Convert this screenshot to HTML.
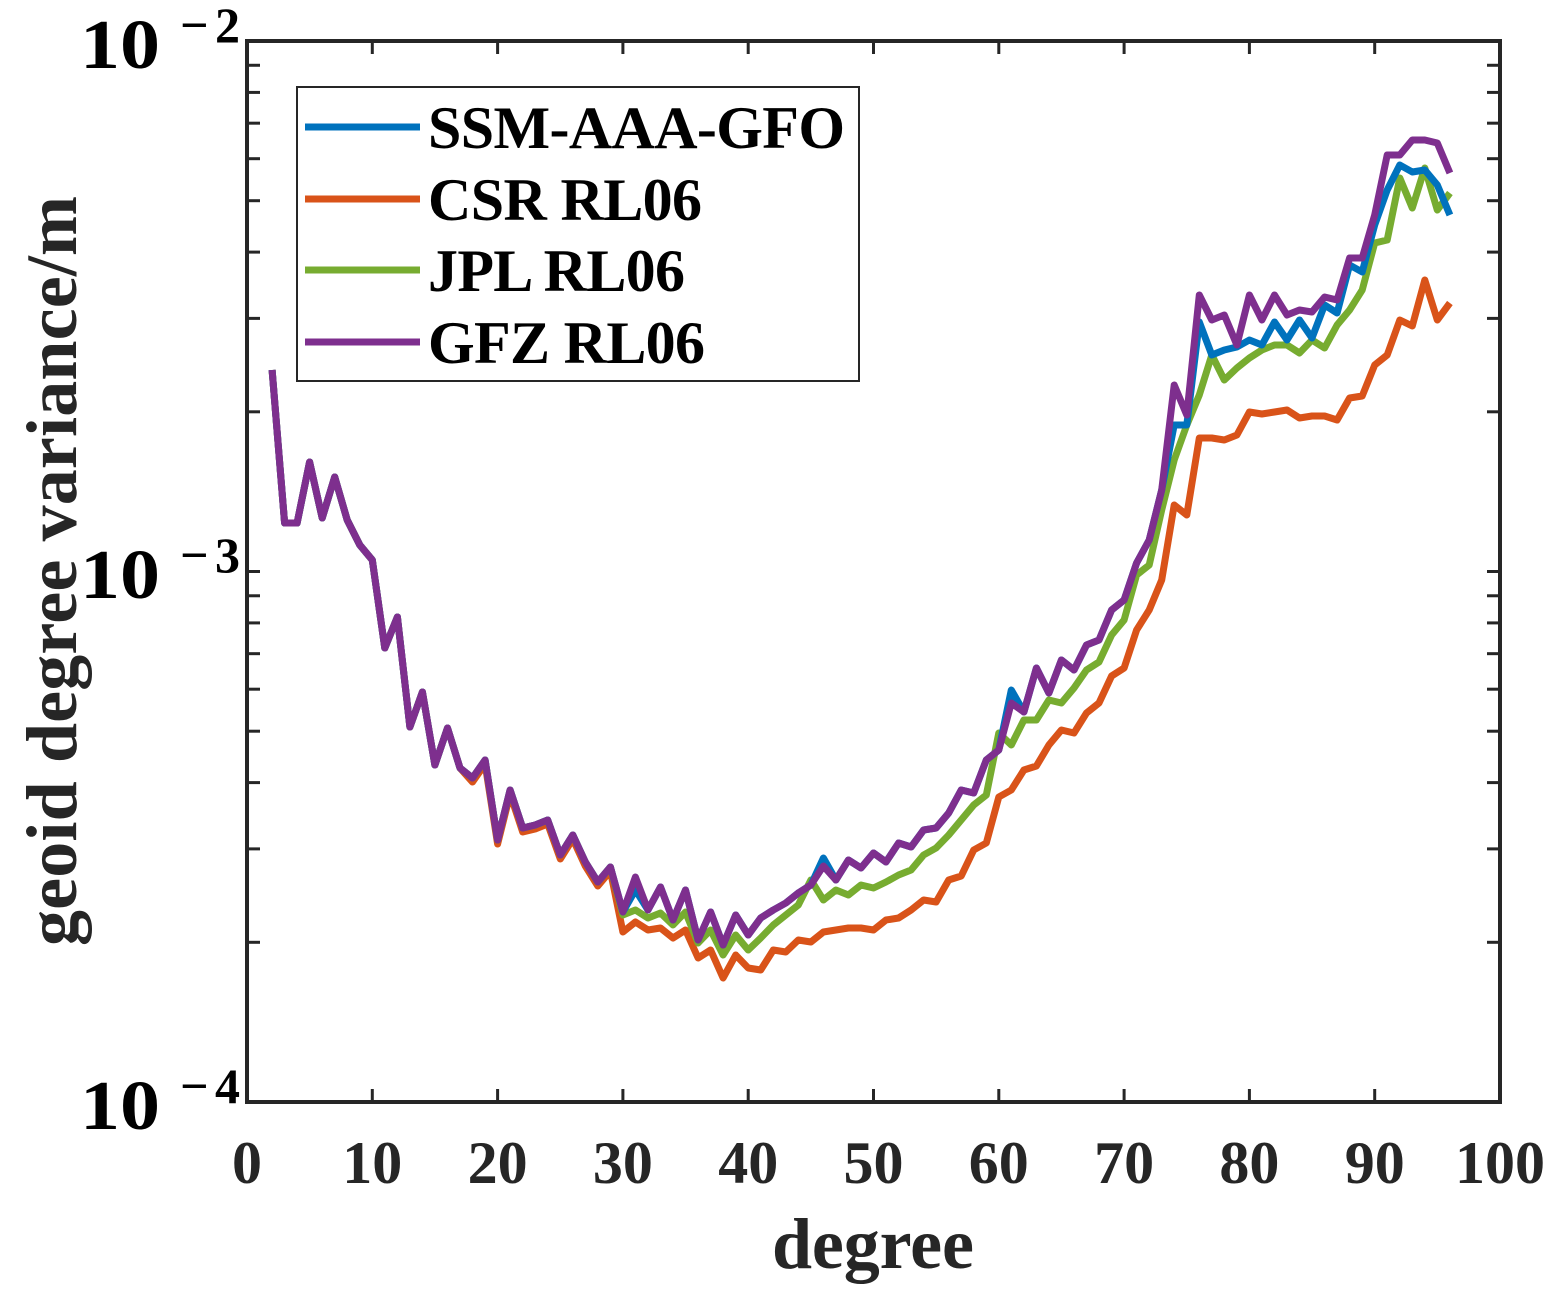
<!DOCTYPE html>
<html><head><meta charset="utf-8"><style>
html,body{margin:0;padding:0;background:#fff;}
svg{display:block;font-family:"Liberation Serif",serif;font-weight:bold;}
</style></head><body>
<svg id="s" width="1557" height="1299" xmlns="http://www.w3.org/2000/svg">
<g id="ticks" stroke="#262626" stroke-width="3"></g>
<g id="series" fill="none" stroke-width="7" stroke-linejoin="round"></g>
<rect x="247" y="41" width="1253" height="1061" fill="none" stroke="#262626" stroke-width="4"/>
<g fill="#262626" font-size="60" text-anchor="middle" id="xl"></g>
<g fill="#000" font-size="70">
<text x="80" y="68" textLength="80" lengthAdjust="spacingAndGlyphs">10</text><text x="180" y="42" font-size="50" textLength="60">− 2</text>
<text x="80" y="598" textLength="80" lengthAdjust="spacingAndGlyphs">10</text><text x="180" y="572" font-size="50" textLength="60">− 3</text>
<text x="80" y="1129" textLength="80" lengthAdjust="spacingAndGlyphs">10</text><text x="180" y="1103" font-size="50" textLength="60">− 4</text>
</g>
<text x="873" y="1268" font-size="72" text-anchor="middle" fill="#262626" textLength="202">degree</text>
<text transform="translate(76,571) rotate(-90)" font-size="72" text-anchor="middle" fill="#262626" textLength="750">geoid degree variance/m</text>
<rect x="297" y="87" width="562" height="294" fill="#fff" stroke="#262626" stroke-width="2"/>
<g stroke-width="7">
<line x1="305" y1="127" x2="420" y2="127" stroke="#0072BD"/>
<line x1="305" y1="199" x2="420" y2="199" stroke="#D95319"/>
<line x1="305" y1="270" x2="420" y2="270" stroke="#77AC30"/>
<line x1="305" y1="342" x2="420" y2="342" stroke="#7E2F8E"/>
</g>
<g font-size="60" fill="#000">
<text x="428" y="148" textLength="417">SSM-AAA-GFO</text>
<text x="428" y="220" textLength="274">CSR RL06</text>
<text x="428" y="291" textLength="257">JPL RL06</text>
<text x="428" y="363" textLength="277">GFZ RL06</text>
</g>
</svg>
<script>
var NS="http://www.w3.org/2000/svg";
function el(p,t,a){var e=document.createElementNS(NS,t);for(var k in a)e.setAttribute(k,a[k]);p.appendChild(e);return e;}
var tk=document.getElementById('ticks'),xl=document.getElementById('xl');
for(var i=0;i<=10;i++){var x=247+125.3*i;
 el(tk,'line',{x1:x,y1:1102,x2:x,y2:1089});el(tk,'line',{x1:x,y1:41,x2:x,y2:54});
 var t=el(xl,'text',{x:x,y:1183});t.textContent=String(i*10);}
for(var d=0;d<2;d++)for(var m=1;m<=9;m++){var y=1102-530.5*d-530.5*Math.log10(m);
 el(tk,'line',{x1:247,y1:y,x2:260,y2:y});el(tk,'line',{x1:1500,y1:y,x2:1487,y2:y});}
var common=[370,523,523,462,518,477,520,545,560,648,617,727,692,765,728,768,778,760,840,790,828,825,820,855,835,862,882,867];
var P=common.concat([912,877,910,887,920,890,940,912,945,915,935,918,910,903,893,885,866,880,860,868,853,862,843,847,830,828,813,790,793,760,750,703,712,668,693,660,670,645,640,610,600,563,540,490,385,415,295,320,315,345,295,320,295,315,310,312,297,300,258,258,215,155,155,140,140,143,173]);
var B=P.slice();var bo={31:890,46:858,61:690,74:425,75:425,76:322,77:355,78:350,79:347,80:340,81:345,82:322,83:340,84:320,85:338,86:305,87:313,88:265,89:272,90:225,91:190,92:165,93:172,94:170,95:185,96:215};
for(var k in bo)B[k-2]=bo[k];
var G=common.concat([915,910,918,913,925,912,943,930,955,935,950,938,925,915,905,880,900,890,895,885,888,882,875,870,855,848,835,820,805,795,733,745,720,720,700,703,688,670,662,635,620,575,565,510,460,425,395,355,380,368,358,350,345,345,353,340,348,325,310,290,243,240,178,208,168,210,193]);
var C=common.map(function(v,i){return v+(i>15?4:0)}).concat([932,922,930,928,938,930,958,950,978,955,968,970,950,952,940,942,932,930,928,928,930,920,918,910,900,902,880,876,850,843,797,790,770,766,745,730,733,713,703,676,668,630,610,580,505,515,438,438,440,435,412,414,412,410,418,416,416,420,398,396,365,355,320,326,280,320,303]);
var sg=document.getElementById('series');
[[C,'#D95319'],[G,'#77AC30'],[B,'#0072BD'],[P,'#7E2F8E']].forEach(function(s){
 var pts=s[0].map(function(y,i){return (247+12.53*(i+2)).toFixed(1)+','+y}).join(' ');
 el(sg,'polyline',{points:pts,stroke:s[1]});});
</script>
</body></html>
